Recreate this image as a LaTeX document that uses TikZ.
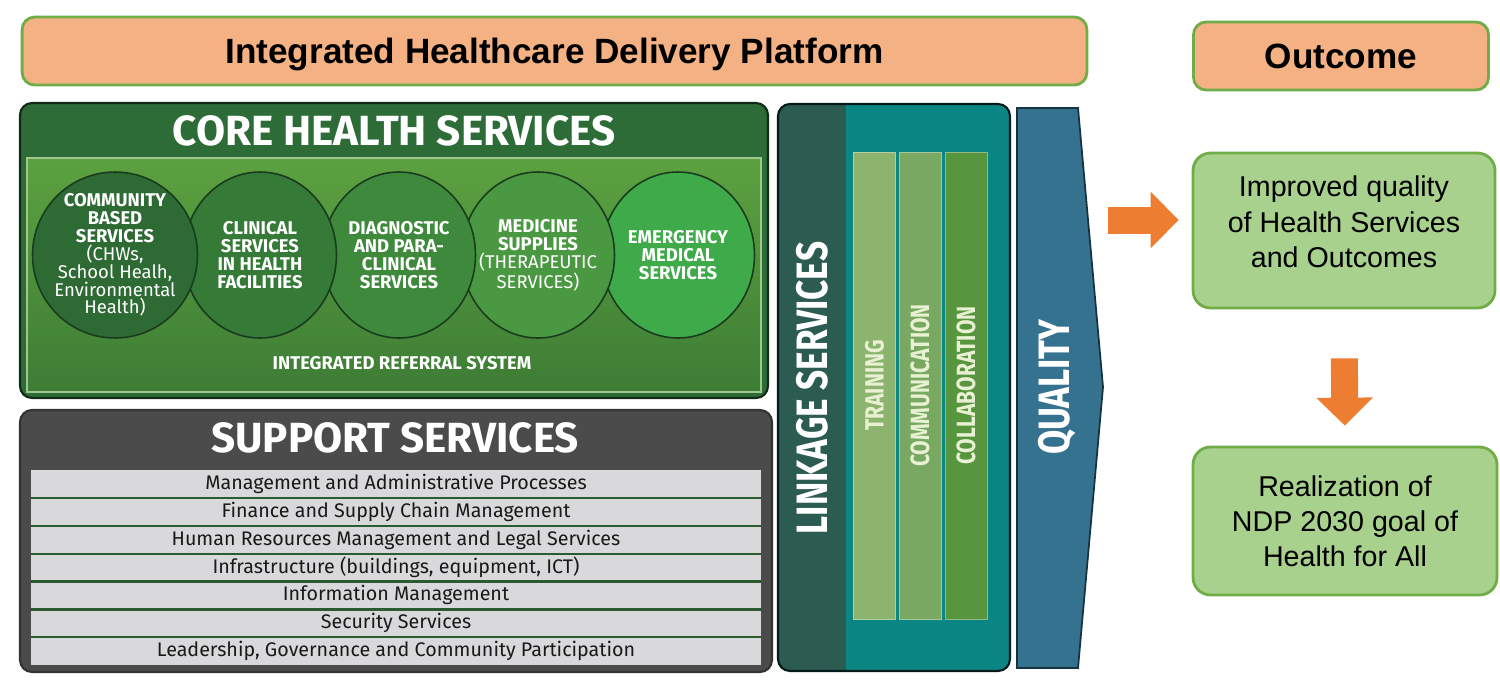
\documentclass[tikz,border=0pt]{standalone}
\usepackage{fontspec}
\setmainfont{Liberation Sans}
\newfontfamily\panelfont{Fira Sans}
\newfontfamily\condfont[FakeStretch=0.8]{Fira Sans}
\usetikzlibrary{shapes.geometric,arrows.meta}

\definecolor{peach}{HTML}{F4B183}
\definecolor{leaf}{HTML}{70AD47}
\definecolor{mint}{HTML}{A9D18E}
\definecolor{tangerine}{HTML}{ED7D31}
\definecolor{coredark}{HTML}{2D6B37}
\definecolor{corelight}{HTML}{5CA140}
\definecolor{coremid}{HTML}{3D7D35}
\definecolor{circA}{HTML}{2E6A34}
\definecolor{circB}{HTML}{367A38}
\definecolor{circC}{HTML}{3E893C}
\definecolor{circD}{HTML}{4B9842}
\definecolor{circE}{HTML}{3FAA4A}
\definecolor{slate}{HTML}{4B4B4B}
\definecolor{rowgrey}{HTML}{D9D9DB}
\definecolor{rowline}{HTML}{2B5B30}
\definecolor{linkdark}{HTML}{2C5B52}
\definecolor{linkteal}{HTML}{0A8784}
\definecolor{barA}{HTML}{8CB46F}
\definecolor{barB}{HTML}{78A862}
\definecolor{barC}{HTML}{57963F}
\definecolor{bartext}{HTML}{E8F1D2}
\definecolor{steel}{HTML}{35728F}

\begin{document}
\begin{tikzpicture}[x=0.02cm,y=-0.02cm,
  peachbox/.style={draw=leaf,line width=1.6pt,fill=peach,rounded corners=0.25cm,text depth=0pt,
    font=\bfseries\fontsize{20}{24}\selectfont},
  mintbox/.style={draw=leaf,line width=1.6pt,fill=mint,rounded corners=0.35cm,
    align=center,font=\fontsize{16.3}{20}\selectfont},
  bigarrow/.style={tangerine,line width=0.54cm,-{Triangle[length=0.56cm,width=1.1cm]}},
  paneltitle/.style={white,font=\panelfont\bfseries\fontsize{24}{28}\selectfont},
  service/.style={ellipse,draw=black!45!coredark,line width=0.9pt,minimum height=3.32cm,inner sep=0pt},
  servicetext/.style={white,align=center,font=\panelfont\bfseries\fontsize{10.5}{10.2}\selectfont},
  supportrow/.style={fill=rowgrey,minimum width=14.6cm,minimum height=0.556cm,inner sep=0pt,
    text=black!90,font=\panelfont\fontsize{11.2}{13}\selectfont},
  linkbar/.style={draw=white!35!#1,fill=#1,rotate=90,minimum width=9.34cm,minimum height=0.84cm,
    inner sep=0pt,text=bartext,font=\condfont\bfseries\fontsize{15}{17}\selectfont},
  sidetitle/.style={white,rotate=90,font=\condfont\bfseries\fontsize{25}{28}\selectfont}]

\fill[white] (0,0) rectangle (1500,691);
\useasboundingbox (0,0) rectangle (1500,691);

% headers
\node[peachbox,minimum width=21.3cm,minimum height=1.36cm] (platform) at (554.5,51)
  {Integrated Healthcare Delivery Platform};
\node[peachbox,minimum width=5.9cm,minimum height=1.36cm] (outcome) at (1341,56) {Outcome};

% core health services
\draw[fill=coredark,draw=black!60!coredark,line width=1.2pt,rounded corners=0.24cm]
  (20,103) rectangle (768,398);
\shade[top color=corelight,bottom color=coremid] (27,158) rectangle (761,392);
\draw[corelight!60!white,line width=0.6pt] (27,158) rectangle (761,392);
\node[paneltitle] (coretitle) at (394,131) {CORE HEALTH SERVICES};

\foreach \cx/\col/\w/\nm in {678/circE/3.06/emergency,538/circD/3.06/medicine,
    399/circC/3.06/diagnostic,260/circB/3.06/clinical,115/circA/3.3/community}
  \node[service,fill=\col,minimum width=\w cm] (\nm) at (\cx,255) {};

\node[servicetext] (communitytxt) at (community) {COMMUNITY\\BASED\\SERVICES\\
  \mdseries(CHWs,\\\mdseries School Healh,\\\mdseries Environmental\\\mdseries Health)};
\node[servicetext] (clinicaltxt) at (clinical) {CLINICAL\\SERVICES\\IN HEALTH\\FACILITIES};
\node[servicetext] (diagnostictxt) at (diagnostic) {DIAGNOSTIC\\AND PARA-\\CLINICAL\\SERVICES};
\node[servicetext] (medicinetxt) at (medicine) {MEDICINE\\SUPPLIES\\
  \mdseries(THERAPEUTIC\\\mdseries SERVICES)};
\node[servicetext] (emergencytxt) at (emergency) {EMERGENCY\\MEDICAL\\SERVICES};
\node[servicetext] (referral) at (402,363) {INTEGRATED REFERRAL SYSTEM};

% support services
\draw[fill=slate,draw=black!80,line width=1.2pt,rounded corners=0.24cm]
  (20,410) rectangle (772,672);
\node[paneltitle] (supporttitle) at (395,438) {SUPPORT SERVICES};
\foreach \txt [count=\i] in {Management and Administrative Processes,
    Finance and Supply Chain Management,
    Human Resources Management and Legal Services,
    {Infrastructure (buildings, equipment, ICT)},
    Information Management,
    Security Services,
    {Leadership, Governance and Community Participation}}
  \node[supportrow] (row\i) at (396,{456.1+27.8*\i}) {\txt};
\foreach \i in {1,...,6}
  \draw[rowline,line width=1.3pt] (row\i.south west) -- (row\i.south east);

% linkage services
\begin{scope}
\clip[rounded corners=0.24cm] (778,104) rectangle (1010,671);
\fill[linkteal] (778,104) rectangle (1010,671);
\fill[linkdark] (778,104) rectangle (846,671);
\end{scope}
\draw[draw=black!80!linkteal,line width=1.2pt,rounded corners=0.24cm] (778,104) rectangle (1010,671);
\node[sidetitle] (linkage) at (812,388) {LINKAGE SERVICES};
\node[linkbar=barA] (training) at (874.5,385.5) {TRAINING};
\node[linkbar=barB] (communication) at (920,385.5) {COMMUNICATION};
\node[linkbar=barC] (collaboration) at (966,385.5) {COLLABORATION};

% quality
\draw[fill=steel,draw=black!55!steel,line width=1pt]
  (1017,108) -- (1078,108) -- (1103,387) -- (1078,668) -- (1017,668) -- cycle;
\node[sidetitle] (quality) at (1057,387) {QUALITY};

% outcomes
\node[mintbox,minimum width=6.04cm,minimum height=3.1cm,text depth=10pt] (improved) at (1344,230.5)
  {Improved quality\\of Health Services\\and Outcomes};
\node[mintbox,minimum width=6.08cm,minimum height=2.96cm] (realize) at (1345,521)
  {Realization of\\NDP 2030 goal of\\Health for All};

\coordinate (qarrow) at (1108,220);
\draw[bigarrow,shorten >=0.26cm] (qarrow) -- (qarrow -| improved.west);
\draw[bigarrow,shorten <=0.98cm,shorten >=0.4cm] (improved.south) -- (realize.north);

\end{tikzpicture}
\end{document}
